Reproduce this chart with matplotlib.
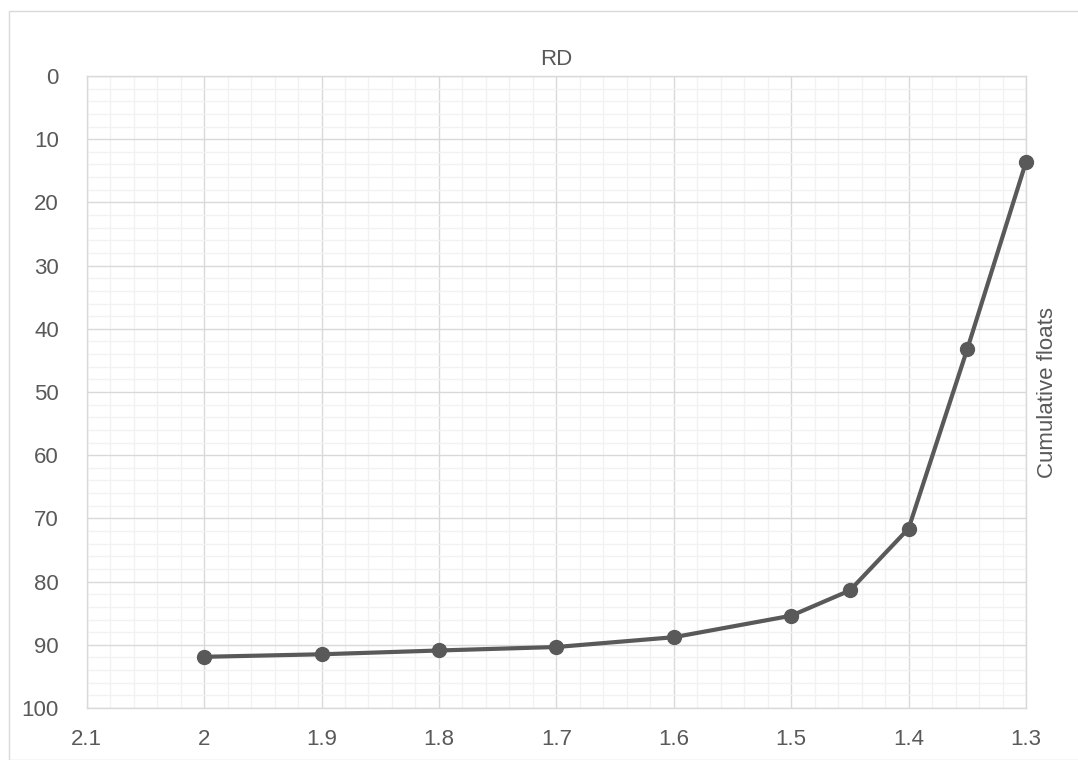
import numpy as np
import matplotlib.pyplot as plt
from matplotlib.patches import Rectangle
from matplotlib.ticker import MultipleLocator

# Data
rd = [2.0, 1.9, 1.8, 1.7, 1.6, 1.5, 1.45, 1.4, 1.35, 1.3]
cum_floats = [91.9, 91.5, 90.9, 90.35, 88.8, 85.4, 81.4, 71.6, 43.2, 13.6]

x_ticks = [2.1, 2.0, 1.9, 1.8, 1.7, 1.6, 1.5, 1.4, 1.3]
x_labels = ["2.1", "2", "1.9", "1.8", "1.7", "1.6", "1.5", "1.4", "1.3"]
y_ticks = [0, 10, 20, 30, 40, 50, 60, 70, 80, 90, 100]

plt.rcParams['font.family'] = ['Liberation Sans', 'DejaVu Sans']

text_col = "#595959"
line_col = "#595959"
fs = 16

fig = plt.figure(figsize=(10.78, 7.6), dpi=100)
W, H = 1078, 760

# chart area border
fig.patches.append(Rectangle((9 / W, 0), 1.0, 1 - 11 / H, transform=fig.transFigure,
                             fill=False, edgecolor="#d9d9d9", linewidth=1.0))

ax = fig.add_axes([86.7 / W, 1 - 708 / H, (1026 - 86.7) / W, (708 - 76) / H])

ax.plot(rd, cum_floats, color=line_col, linewidth=3.0, marker="o",
        markersize=10, markerfacecolor=line_col, markeredgecolor=line_col,
        solid_joinstyle="round", zorder=5, clip_on=False)

ax.set_xlim(2.1, 1.3)
ax.set_ylim(100, 0)

ax.set_xticks(x_ticks)
ax.set_xticklabels(x_labels)
ax.set_yticks(y_ticks)
ax.xaxis.set_minor_locator(MultipleLocator(0.02))
ax.yaxis.set_minor_locator(MultipleLocator(2))

ax.grid(which="major", color="#d9d9d9", linewidth=1.0, zorder=1)
ax.grid(which="minor", color="#f2f2f2", linewidth=1.0, zorder=0)
ax.set_axisbelow(True)

for s in ax.spines.values():
    s.set_color("#d9d9d9")
    s.set_linewidth(1.0)

ax.tick_params(which="both", length=0, labelsize=fs, colors=text_col)
ax.tick_params(axis="x", pad=15)
ax.tick_params(axis="y", pad=20)

ax.set_title("RD", fontsize=fs, color=text_col, pad=8)
ax.yaxis.set_label_position("right")
ax.set_ylabel("Cumulative floats", fontsize=fs, color=text_col, labelpad=8)

fig.savefig("out.png", dpi=100)
